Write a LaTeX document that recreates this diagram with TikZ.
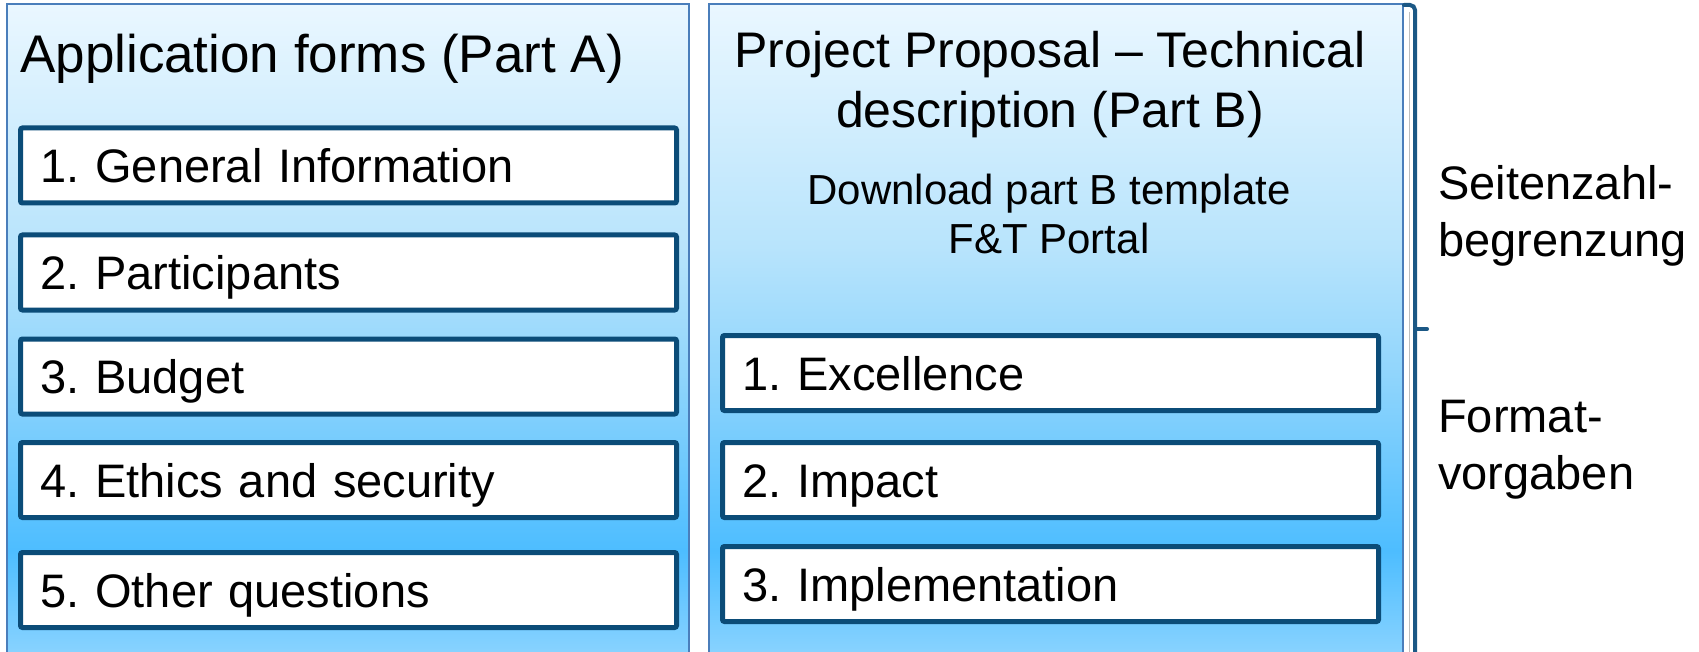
\documentclass[tikz,border=0pt]{standalone}
\usepackage{fontspec}
\setmainfont{Liberation Sans}
\frenchspacing
\definecolor{ptop}{HTML}{EAF7FF}
\definecolor{pmidA}{HTML}{B8E4FC}
\definecolor{pmidB}{HTML}{90D5FC}
\definecolor{pdeep}{HTML}{4DBDFF}
\definecolor{pbot}{HTML}{8CD4FF}
\definecolor{panelborder}{HTML}{4A7EBB}
\definecolor{boxborder}{HTML}{0B4C78}
\definecolor{bracketblue}{HTML}{1B5885}
\pgfdeclareverticalshading{panelshade}{100bp}{color(0bp)=(pbot); color(25bp)=(pbot); color(33.3bp)=(pdeep); color(46.8bp)=(pmidB); color(56.5bp)=(pmidA); color(75bp)=(ptop); color(100bp)=(ptop)}
\tikzset{
  panel/.style={draw=panelborder, line width=1.5pt, shade, shading=panelshade, inner sep=0pt},
  itembox/.style={draw=boxborder, fill=white, line width=5pt, rounded corners=2pt,
    minimum height=75pt, text width=616pt, align=left, inner xsep=20pt,
    text height=34pt, text depth=0pt, font=\fontsize{47}{56}\selectfont},
  bigtitle/.style={inner sep=0pt, font=\fontsize{53}{60}\selectfont},
  titleB/.style={inner sep=0pt, font=\fontsize{50}{60}\selectfont},
  subtext/.style={inner sep=0pt, font=\fontsize{42}{48}\selectfont},
  sidetext/.style={inner sep=0pt, anchor=base west, font=\fontsize{47}{57}\selectfont},
  bracketline/.style={draw=bracketblue, line width=4pt, line cap=round},
}
\begin{document}
\begin{tikzpicture}[x=1pt, y=-1pt]
\useasboundingbox (0,0) rectangle (1699,652);
% panels
\node[panel, minimum width=682pt, minimum height=656pt] (panelA) at (348,332) {};
\node[panel, minimum width=694pt, minimum height=656pt] (panelB) at (1056,332) {};
% bracket shadow
\draw[white, line width=3pt] (1406.5,12) -- (1406.5,660);
\draw[black!25, line width=1.5pt] (1409.5,12) -- (1409.5,660);
% bracket
\draw[bracketline, rounded corners=5pt] (1404,5) -- (1415,5) -- (1415,660);
\coordinate (tickA) at (1415,329);
\coordinate (tickB) at (1427,329);
\draw[bracketline] (tickA) -- (tickB);
% titles
\node[bigtitle, anchor=base west] (titleA) at (20,73) {Application forms (Part A)};
\node[titleB, anchor=base] (titleB1) at (1050,68) {Project Proposal – Technical};
\node[titleB, anchor=base] (titleB2) at (1050,128) {description (Part B)};
\node[subtext, anchor=base] (dl1) at (1049,205) {Download part B template};
\node[subtext, anchor=base] (dl2) at (1049,254) {F\&T Portal};
% left boxes
\node[itembox, minimum width=656pt] (a1) at (348.5,165.5) {1. General Information};
\node[itembox, minimum width=656pt] (a2) at (348.5,272.5) {2. Participants};
\node[itembox, minimum width=656pt] (a3) at (348.5,376.5) {3. Budget};
\node[itembox, minimum width=656pt] (a4) at (348.5,480) {4. Ethics and security};
\node[itembox, minimum width=656pt] (a5) at (348.5,590) {5. Other questions};
% right boxes
\node[itembox, minimum width=654pt] (b1) at (1050.5,373) {1. Excellence};
\node[itembox, minimum width=654pt] (b2) at (1050.5,480) {2. Impact};
\node[itembox, minimum width=654pt] (b3) at (1050.5,584) {3. Implementation};
% side labels
\node[sidetext] (s1) at (1438,200) {Seitenzahl-};
\node[sidetext] (s2) at (1438,257) {begrenzung};
\node[sidetext] (f1) at (1438,432) {Format-};
\node[sidetext] (f2) at (1438,489) {vorgaben};
\end{tikzpicture}
\end{document}
